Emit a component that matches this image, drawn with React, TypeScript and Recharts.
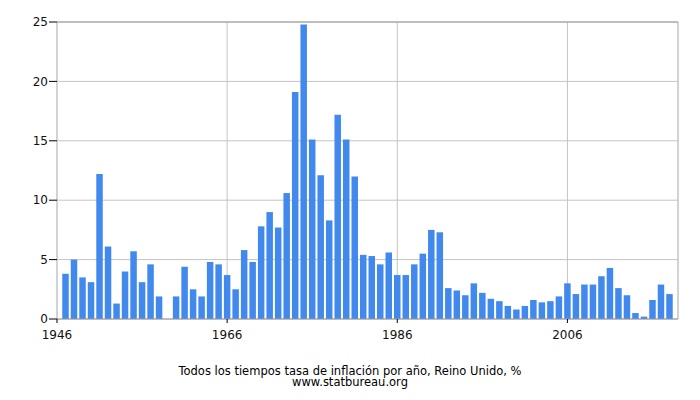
import React from 'react';
import { BarChart, Bar, XAxis, YAxis, CartesianGrid, ReferenceLine } from 'recharts';

const years: number[] = [
  1947, 1948, 1949, 1950, 1951, 1952, 1953, 1954, 1955, 1956, 1957, 1958, 1959, 1960, 1961, 1962, 1963, 1964,
  1965, 1966, 1967, 1968, 1969, 1970, 1971, 1972, 1973, 1974, 1975, 1976, 1977, 1978, 1979, 1980, 1981, 1982,
  1983, 1984, 1985, 1986, 1987, 1988, 1989, 1990, 1991, 1992, 1993, 1994, 1995, 1996, 1997, 1998, 1999, 2000,
  2001, 2002, 2003, 2004, 2005, 2006, 2007, 2008, 2009, 2010, 2011, 2012, 2013, 2014, 2015, 2016, 2017, 2018,
];

const inflation: number[] = [
  3.8, 5.0, 3.5, 3.1, 12.2, 6.1, 1.3, 4.0, 5.7, 3.1, 4.6, 1.9, 0, 1.9, 4.4, 2.5, 1.9, 4.8,
  4.6, 3.7, 2.5, 5.8, 4.8, 7.8, 9.0, 7.7, 10.6, 19.1, 24.8, 15.1, 12.1, 8.3, 17.2, 15.1, 12.0, 5.4,
  5.3, 4.6, 5.6, 3.7, 3.7, 4.6, 5.5, 7.5, 7.3, 2.6, 2.4, 2.0, 3.0, 2.2, 1.7, 1.5, 1.1, 0.8,
  1.1, 1.6, 1.4, 1.5, 1.9, 3.0, 2.1, 2.9, 2.9, 3.6, 4.3, 2.6, 2.0, 0.5, 0.2, 1.6, 2.9, 2.1,
];

const xTicks: number[] = [1946, 1966, 1986, 2006];
const yTicks: number[] = [0, 5, 10, 15, 20, 25];

const titleLine = 'Todos los tiempos tasa de inflación por año, Reino Unido, %';
const sourceLine = 'www.statbureau.org';

const data = years.map((y, i) => ({ year: y, value: inflation[i] }));

const FONT = '"DejaVu Sans", Verdana, sans-serif';

export default function App() {
  return (
    <div style={{ position: 'absolute', left: 0, top: 0, width: 700, height: 400, fontFamily: FONT }}>
      <BarChart
        width={700}
        height={400}
        data={data}
        margin={{ top: 22, right: 22, left: 0, bottom: 51 }}
      >
        <CartesianGrid stroke="#c4c4c4" strokeWidth={1} />
        <XAxis
          dataKey="year"
          type="number"
          domain={[1946, 2019]}
          ticks={xTicks}
          allowDataOverflow
          height={30}
          tickSize={4}
          tickMargin={7}
          tickLine={{ stroke: '#000' }}
          axisLine={{ stroke: '#9a9a9a' }}
          tick={{ fill: '#111', fontSize: 12, fontFamily: FONT }}
        />
        <YAxis
          type="number"
          domain={[0, 25]}
          ticks={yTicks}
          width={57}
          tickSize={8}
          tickMargin={1}
          tickLine={{ stroke: '#000' }}
          axisLine={{ stroke: '#c4c4c4' }}
          tick={{ fill: '#111', fontSize: 12, fontFamily: FONT }}
        />
        <ReferenceLine x={2019} stroke="#c4c4c4" />
        <ReferenceLine y={25} stroke="#9a9a9a" />
        <Bar dataKey="value" fill="#4289ee" barSize={6.5} isAnimationActive={false} />
      </BarChart>
      <div
        style={{
          position: 'absolute',
          left: 0,
          top: 366,
          width: 700,
          textAlign: 'center',
          fontSize: 11.5,
          lineHeight: '10.5px',
          color: '#000',
          fontFamily: FONT,
        }}
      >
        <div>{titleLine}</div>
        <div>{sourceLine}</div>
      </div>
    </div>
  );
}
